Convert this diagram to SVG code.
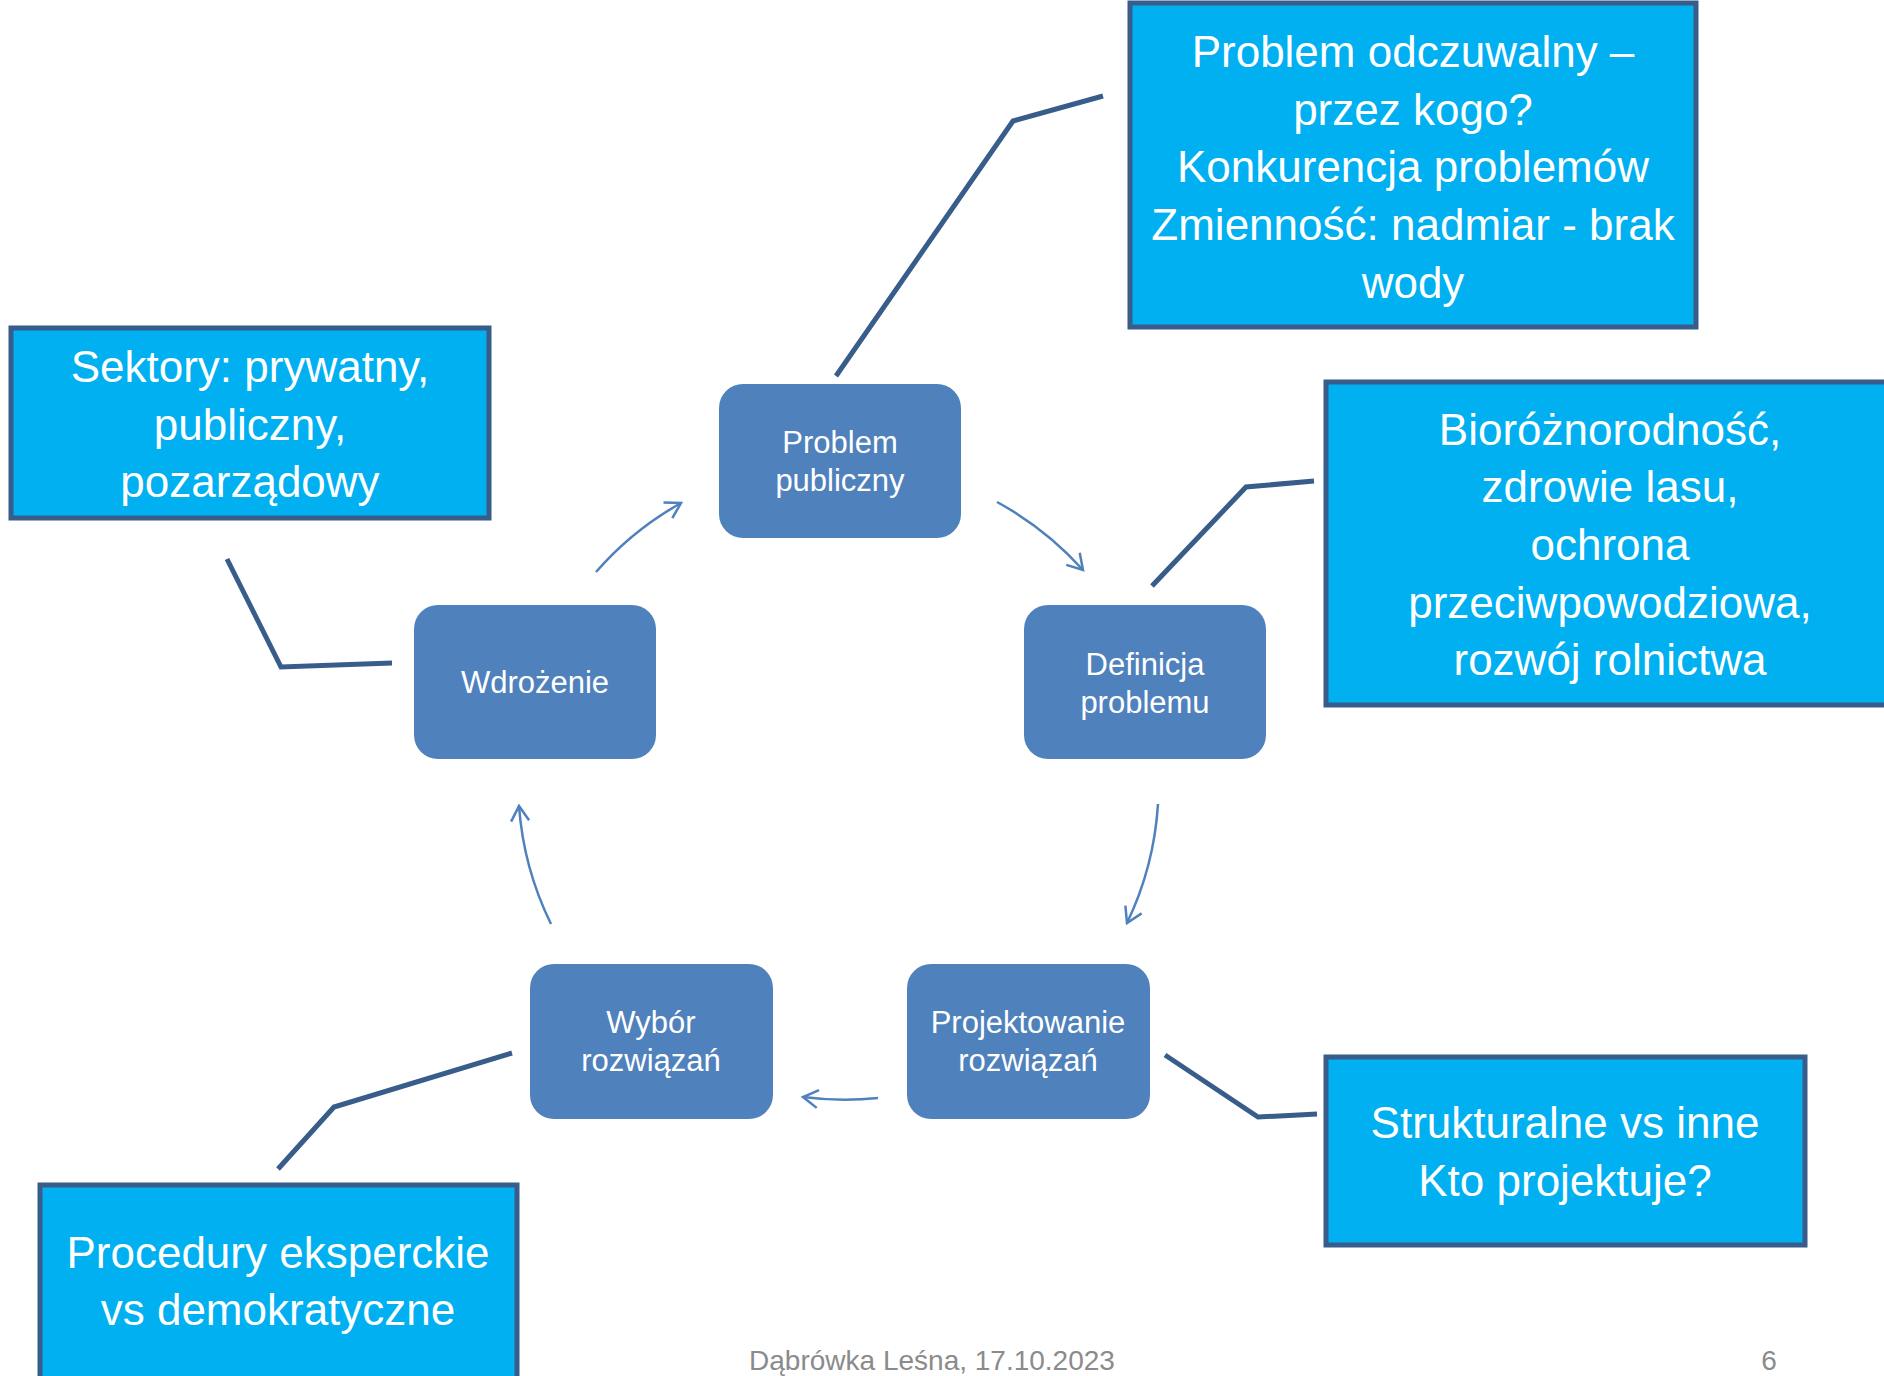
<svg xmlns="http://www.w3.org/2000/svg" width="1884" height="1376" viewBox="0 0 1884 1376">
<style>
.node rect{fill:#4F81BD;}
.node text{font-family:"Liberation Sans",Arial,sans-serif;font-size:31px;fill:#FFFFFF;text-anchor:middle;}
.callout rect{fill:#00B0F0;stroke:#385D8A;stroke-width:5;}
.callout text{font-family:"Liberation Sans",Arial,sans-serif;font-size:44px;fill:#FFFFFF;text-anchor:middle;}
.lead{fill:none;stroke:#385D8A;stroke-width:5;}
.arr{fill:none;stroke:#4F81BD;stroke-width:2.5;marker-end:url(#open);}
.foot{font-family:"Liberation Sans",Arial,sans-serif;font-size:28px;fill:#8B8B8B;}
</style>
<defs>
<marker id="open" markerUnits="userSpaceOnUse" viewBox="-20 -12 24 24" refX="0" refY="0" markerWidth="24" markerHeight="24" orient="auto">
<path d="M-15,-9 L0,0 L-15,9" fill="none" stroke="#4F81BD" stroke-width="2.5"/>
</marker>
</defs>
<rect width="1884" height="1376" fill="#FFFFFF"/>

<g id="connectors">
<path class="arr" d="M596,572 A321,321 0 0 1 681,503"/>
<path class="arr" d="M997,502 A321,321 0 0 1 1083,570"/>
<path class="arr" d="M1158,804 A321,321 0 0 1 1127,923"/>
<path class="arr" d="M878,1098 A321,321 0 0 1 803,1097"/>
<path class="arr" d="M551,924 A321,321 0 0 1 519,806"/>
<polyline class="lead" points="836,376 1013,121 1103,96"/>
<polyline class="lead" points="1152,586 1246,487 1314,481"/>
<polyline class="lead" points="227,559 281,667 392,663"/>
<polyline class="lead" points="278,1169 334,1107 512,1053"/>
<polyline class="lead" points="1165,1055 1258,1117 1317,1114"/>
</g>

<g id="node-problem" class="node">
<rect x="719" y="384" width="242" height="154" rx="24"/>
<text x="840" y="453">Problem</text>
<text x="840" y="491">publiczny</text>
</g>
<g id="node-definicja" class="node">
<rect x="1024" y="605" width="242" height="154" rx="24"/>
<text x="1145" y="675">Definicja</text>
<text x="1145" y="713">problemu</text>
</g>
<g id="node-projektowanie" class="node">
<rect x="907" y="964" width="243" height="155" rx="24"/>
<text x="1028" y="1033">Projektowanie</text>
<text x="1028" y="1071">rozwiązań</text>
</g>
<g id="node-wybor" class="node">
<rect x="530" y="964" width="243" height="155" rx="24"/>
<text x="651" y="1033">Wybór</text>
<text x="651" y="1071">rozwiązań</text>
</g>
<g id="node-wdrozenie" class="node">
<rect x="414" y="605" width="242" height="154" rx="24"/>
<text x="535" y="693">Wdrożenie</text>
</g>

<g id="callout-problem" class="callout">
<rect x="1130" y="3" width="566" height="324"/>
<text x="1413" y="67">Problem odczuwalny –</text>
<text x="1413" y="125">przez kogo?</text>
<text x="1413" y="182">Konkurencja problemów</text>
<text x="1413" y="240">Zmienność: nadmiar - brak</text>
<text x="1413" y="298">wody</text>
</g>
<g id="callout-sektory" class="callout">
<rect x="11" y="328" width="478" height="190"/>
<text x="250" y="382">Sektory: prywatny,</text>
<text x="250" y="440">publiczny,</text>
<text x="250" y="497">pozarządowy</text>
</g>
<g id="callout-bio" class="callout">
<rect x="1326" y="382" width="570" height="323"/>
<text x="1610" y="445">Bioróżnorodność,</text>
<text x="1610" y="502">zdrowie lasu,</text>
<text x="1610" y="560">ochrona</text>
<text x="1610" y="618">przeciwpowodziowa,</text>
<text x="1610" y="675">rozwój rolnictwa</text>
</g>
<g id="callout-strukturalne" class="callout">
<rect x="1326" y="1057" width="479" height="188"/>
<text x="1565" y="1138">Strukturalne vs inne</text>
<text x="1565" y="1196">Kto projektuje?</text>
</g>
<g id="callout-procedury" class="callout">
<rect x="40" y="1185" width="477" height="200"/>
<text x="278" y="1268">Procedury eksperckie</text>
<text x="278" y="1325">vs demokratyczne</text>
</g>

<text class="foot" x="932" y="1370" text-anchor="middle">Dąbrówka Leśna, 17.10.2023</text>
<text class="foot" x="1769" y="1370" text-anchor="middle">6</text>
</svg>
